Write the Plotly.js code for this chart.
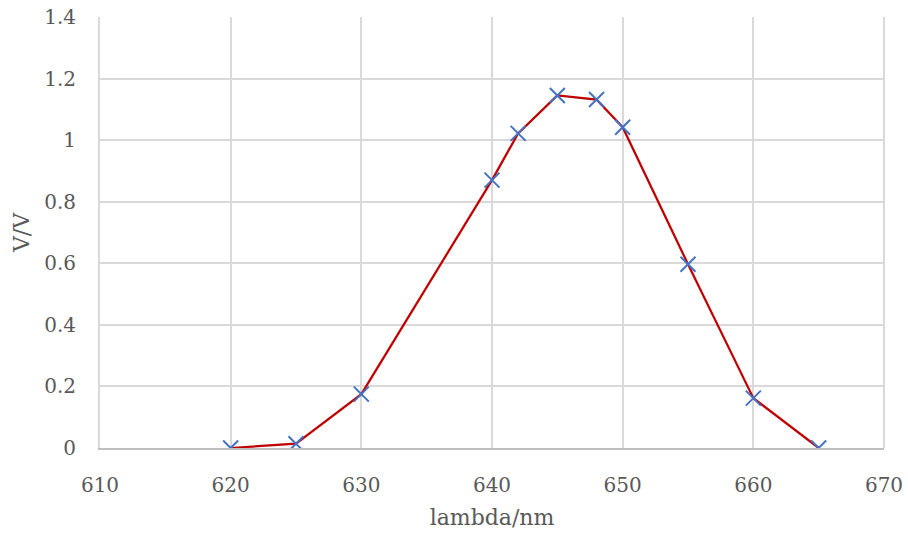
<!DOCTYPE html>
<html><head><meta charset="utf-8">
<script src="https://cdn.plot.ly/plotly-3.0.1.min.js"></script>
<style>html,body{margin:0;padding:0;background:#fff}#chart{width:908px;height:534px}</style>
</head><body><div id="chart"></div>
<script>
const wavelength = [620, 625, 630, 640, 642, 645, 648, 650, 655, 660, 665];
const voltage = [0, 0.014, 0.175, 0.87, 1.022, 1.145, 1.132, 1.042, 0.597, 0.162, 0];
const xTitle = 'lambda/nm';
const yTitle = 'V/V';

const font = {family: '"DejaVu Serif", "Liberation Serif", serif', size: 20, color: '#595959'};
Plotly.newPlot('chart', [{
  x: wavelength, y: voltage, type: 'scatter', mode: 'lines+markers',
  line: {color: '#C00000', width: 2.25},
  marker: {symbol: 'x-thin-open', size: 15, line: {color: '#4472C4', width: 2}, color: '#4472C4'}
}], {
  width: 908, height: 534,
  margin: {l: 100, r: 24, t: 17, b: 86},
  paper_bgcolor: '#fff', plot_bgcolor: '#fff',
  font: font, showlegend: false,
  xaxis: {range: [610, 670], dtick: 10, tick0: 610, showgrid: true, gridcolor: '#d9d9d9', gridwidth: 2,
    zeroline: false, showline: true, linecolor: '#bfbfbf', linewidth: 2, ticks: '', ticklen: 0,
    ticklabelstandoff: 18,
    tickfont: {size: 20}, title: {text: xTitle, font: {size: 22}, standoff: 14}, fixedrange: true},
  yaxis: {range: [0, 1.4], dtick: 0.2, showgrid: true, gridcolor: '#d9d9d9', gridwidth: 2,
    zeroline: false, showline: true, linecolor: '#d9d9d9', linewidth: 2, ticks: '',
    ticklabelstandoff: 18,
    tickfont: {size: 20}, title: {text: yTitle, font: {size: 22}, standoff: 8}, fixedrange: true},
  shapes: [{type: 'line', xref: 'paper', yref: 'paper', x0: 1, x1: 1, y0: 0, y1: 1, line: {color: '#d9d9d9', width: 2}}]
}, {displayModeBar: false, staticPlot: true});
</script></body></html>
